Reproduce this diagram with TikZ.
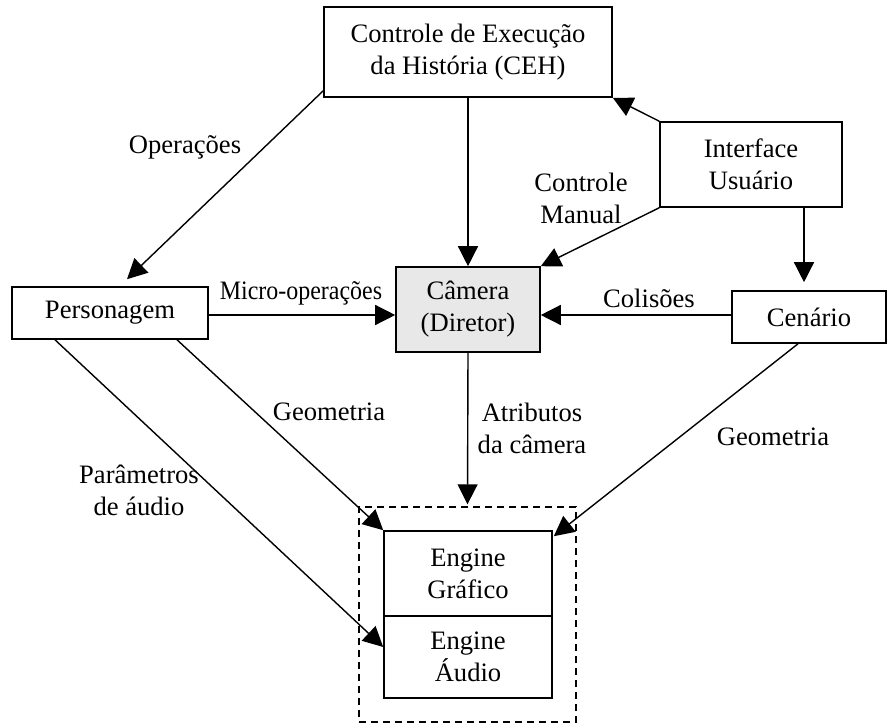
\documentclass[tikz,border=0pt]{standalone}
\usepackage{fontspec}
\usepackage{graphicx}
\setmainfont{Liberation Serif}
\usetikzlibrary{arrows.meta,calc}

\tikzset{
  box/.style={draw, line width=0.8pt, align=center, inner sep=0pt,
              font=\fontsize{13.3}{16}\selectfont},
  lbl/.style={align=center, inner sep=0pt, font=\fontsize{13.3}{16}\selectfont},
  arr/.style={line width=0.7pt, -{Triangle[length=10pt,width=10pt]}},
}

\begin{document}
\begin{tikzpicture}[x=0.5pt, y=-0.5pt]
  \useasboundingbox (0,0) rectangle (889,723);

  % main blocks
  \node[box, minimum width=144pt, minimum height=45pt] (ceh) at (468,52)
    {Controle de Execução\\da História (CEH)};
  \node[box, minimum width=91pt, minimum height=42.5pt] (iu) at (751,164.5)
    {Interface\\Usuário};
  \node[box, minimum width=98pt, minimum height=26pt] (pers) at (110,313)
    {Personagem};
  \node[box, fill=black!9, minimum width=72pt, minimum height=42.5pt] (cam) at (468,309.5)
    {Câmera\\(Diretor)};
  \node[box, minimum width=77pt, minimum height=26pt] (cen) at (809,317)
    {Cenário};

  % engines inside the dashed group
  \node[draw, dashed, dash pattern=on 3.5pt off 2.5pt, line width=0.7pt,
        minimum width=108.5pt, minimum height=107.5pt, inner sep=0pt] (grp) at (467.5,614.5) {};
  \node[box, minimum width=84pt, minimum height=42.5pt] (eg) at (468,573.5)
    {Engine\\Gráfico};
  \node[box, minimum width=84pt, minimum height=41pt] (ea) at (468,657)
    {Engine\\Áudio};

  % connectors
  \draw[arr] (ceh.south) -- (cam.north);
  \draw[arr] (iu.north west) -- (ceh.south east);
  \draw[arr] (iu.south west) -- (cam.north east);
  \draw[arr] ([xshift=26.5pt]iu.south) -- ([xshift=26.5pt,yshift=4pt]iu.south |- cen.north);
  \draw[arr] ([yshift=3.5pt]ceh.south west) -- ([xshift=8.5pt,yshift=3.5pt]pers.north);
  \draw[arr] ([yshift=-1pt]pers.east) -- ([yshift=-1pt]pers.east -| cam.west);
  \draw[arr] ([yshift=1pt]cen.west) -- ([yshift=1pt]cen.west -| cam.east);
  \draw[arr] (cam.south) -- ([yshift=1pt]grp.north);
  \draw[arr] ([xshift=33.5pt]pers.south) -- (eg.north west);
  \draw[arr] ([xshift=-27.5pt]pers.south) -- ([yshift=5pt]ea.west);
  \draw[arr] ([xshift=-5.5pt]cen.south) -- ([xshift=0.5pt,yshift=-3pt]eg.north east);

  % connector labels
  \node[lbl] (lop) at (185,147) {Operações};
  \node[lbl] (lmic) at (301,293) {\scalebox{0.9}[1]{Micro-operações}};
  \node[lbl] (lman) at (581,198) {Controle\\Manual};
  \node[lbl] (lcol) at (649,298) {Colisões};
  \node[lbl] (latr) at (532,428) {Atributos\\da câmera};
  \node[lbl] (lgeo1) at (329,412) {Geometria};
  \node[lbl] (lgeo2) at (773,437) {Geometria};
  \node[lbl] (laud) at (139,490) {Parâmetros\\de áudio};
\end{tikzpicture}
\end{document}
